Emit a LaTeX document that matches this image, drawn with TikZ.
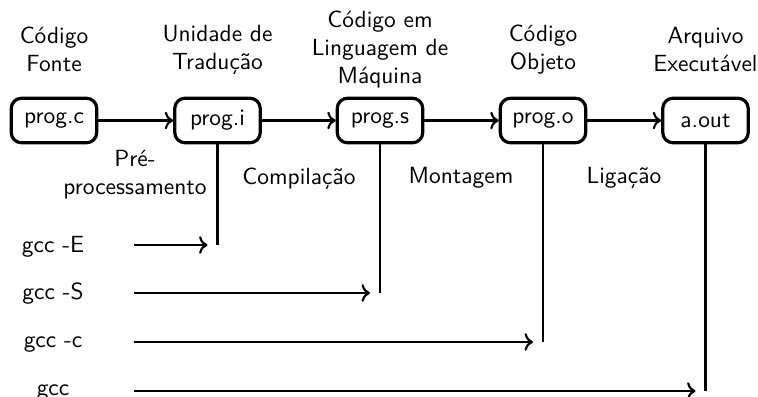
\documentclass[tikz,border=0pt]{standalone}
\usetikzlibrary{arrows.meta}
\begin{document}
\begin{tikzpicture}[x=0.44pt,y=-0.44pt,font=\sffamily\fontsize{10.3}{12.3}\selectfont,
  box/.style={draw,line width=1.4pt,rounded corners=4.5pt,minimum width=37.6pt,minimum height=19.6pt,inner sep=0pt},
  lbl/.style={align=center},
  conn/.style={line width=0.95pt},
  arr/.style={conn,->}]
\useasboundingbox (0,0) rectangle (758,397);
% boxes
\node[box] (pc) at (54,120.5) {prog.c};
\node[box] (pi) at (217.5,120.5) {prog.i};
\node[box] (ps) at (380,120.5) {prog.s};
\node[box] (po) at (543,120.5) {prog.o};
\node[box] (pa) at (705.5,120.5) {a.out};
% top labels
\node[lbl] (tc) at (54,49.5) {Código\\Fonte};
\node[lbl] (ti) at (217.5,49.5) {Unidade de\\Tradução};
\node[lbl] (ts) at (380,49.5) {Código em\\Linguagem de\\Máquina};
\node[lbl] (to) at (543,49.5) {Código\\Objeto};
\node[lbl] (ta) at (705.5,49.5) {Arquivo\\Executável};
% stage arrows
\draw[arr] (pc) -- (pi);
\draw[arr] (pi) -- (ps);
\draw[arr] (ps) -- (po);
\draw[arr] (po) -- (pa);
% stage labels
\node[lbl] (l1) at (135,175) {Pré-\\processamento};
\node (l2) at (299,179) {Compilação};
\node (l3) at (461,178) {Montagem};
\node (l4) at (624,178) {Ligação};
% gcc labels
\node[anchor=base] (gE) at (53,252) {gcc -E};
\node[anchor=base] (gS) at (53,299) {gcc -S};
\node[anchor=base] (gc) at (53,347) {gcc -c};
\node[anchor=base] (g) at (53,395) {gcc};
% line ends
\coordinate (eE) at (217.5,245);
\coordinate (eS) at (380,293);
\coordinate (ec) at (543,342);
\coordinate (ea) at (705.5,391);
\coordinate (sE) at (134,245);
\coordinate (sS) at (134,293);
\coordinate (sc) at (134,342);
\coordinate (sa) at (134,391);
\draw[conn] (pi.south) -- (eE);
\draw[conn] (ps.south) -- (eS);
\draw[conn] (po.south) -- (ec);
\draw[conn] (pa.south) -- (ea);
\draw[arr] (sE) -- ([xshift=-4.4pt]eE);
\draw[arr] (sS) -- ([xshift=-4.4pt]eS);
\draw[arr] (sc) -- ([xshift=-4.4pt]ec);
\draw[arr] (sa) -- ([xshift=-4.4pt]ea);
\end{tikzpicture}
\end{document}
